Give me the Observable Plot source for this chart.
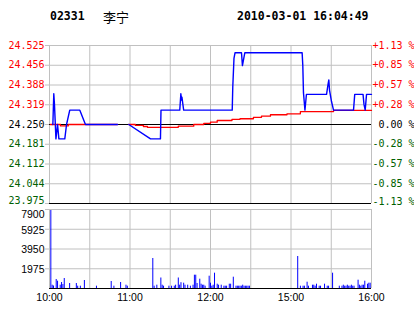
<!DOCTYPE html>
<html><head><meta charset="utf-8">
<script src="https://cdn.jsdelivr.net/npm/d3@7"></script>
<script src="https://cdn.jsdelivr.net/npm/@observablehq/plot@0.6"></script>
<style>
html,body{margin:0;padding:0;background:#fff;}
#wrap{position:relative;width:414px;height:314px;overflow:hidden;background:#fff;}
.h{position:absolute;top:9px;line-height:14px;color:#000;white-space:pre;}
.mono{font:bold 11.5px "DejaVu Sans Mono",monospace;}
.cjk{font:13px "Noto Sans CJK SC",sans-serif;top:7px;}
#main{position:absolute;left:0;top:30px;}
#vol{position:absolute;left:0;top:208px;}
</style></head>
<body>
<div id="wrap">
  <span class="h mono" style="left:50px">02331</span>
  <span class="h cjk" style="left:103px">李宁</span>
  <span class="h mono" style="left:237px">2010-03-01 16:04:49</span>
  <div id="main"></div>
  <div id="vol"></div>
</div>
<script>
// ---------- data ----------
const prevClose = 24.25;
const priceTicks = [24.525, 24.45625, 24.3875, 24.31875, 24.25, 24.18125, 24.1125, 24.04375, 23.975];
const priceLabels = ["24.525","24.456","24.388","24.319","24.250","24.181","24.112","24.044","23.975"];
const pctLabels = ["+1.13 %","+0.85 %","+0.57 %","+0.28 %"," 0.00 %","-0.28 %","-0.57 %","-0.85 %","-1.13 %"];
const volTicks = [1975, 3950, 5925, 7900];
const volLabels = ["1975","3950","5925","7900"];
const gridTimes = ["10:00","10:30","11:00","11:30","12:00","12:30","15:00","15:30","16:00"];
const timeLabels = ["10:00","11:00","12:00","15:00","16:00"];

const priceTime = ["10:02:30","10:03:12","10:03:42","10:04:48","10:06:00","10:07:00","10:11:24","10:12:42","10:15:06","10:22:36",
  "10:26:48","10:50:42","10:55:00","10:59:06","11:15:18","11:22:42","11:23:06","11:37:06","11:37:54","11:38:24",
  "11:38:42","11:40:00","12:16:12","12:16:36","12:17:30","12:18:18","12:23:06","12:23:48","12:24:48","12:25:36",
  "15:08:18","15:08:48","15:09:18","15:10:24","15:11:00","15:11:30","15:26:30","15:27:36","15:28:12","15:28:42",
  "15:30:12","15:31:42","15:46:36","15:47:30","15:53:42","15:54:24","15:55:18","15:56:18","16:00:00"];
const priceValue = [24.25,24.357,24.32,24.20,24.25,24.20,24.20,24.25,24.30,24.30,
  24.25,24.25,null,24.25,24.20,24.20,24.30,24.30,24.357,24.335,
  24.345,24.30,24.30,24.38,24.48,24.50,24.50,24.455,24.48,24.50,
  24.50,24.455,24.36,24.30,24.33,24.355,24.355,24.39,24.405,24.37,
  24.33,24.30,24.30,24.355,24.355,24.32,24.30,24.355,24.355];

const avgTime = ["10:00:42","10:08:12","10:14:00","10:50:42","10:55:00","10:59:06","11:04:00","11:10:00","11:13:00","11:36:00",
  "11:47:30","11:55:00","12:00:00","12:05:00","12:16:00","12:22:00","14:32:00","14:38:00","14:44:42","14:57:00",
  "15:07:00","15:31:42","16:00:00"];
const avgValue = [24.25,24.245,24.25,24.25,null,24.25,24.247,24.243,24.24,24.244,
  24.25,24.254,24.258,24.264,24.268,24.27,24.275,24.279,24.284,24.287,
  24.295,24.299,24.299];

const volTime = ["10:01","10:02","10:03","10:05","10:06","10:08","10:09","10:10","10:11","10:15",
  "10:20","10:21","10:23","10:26","10:35","10:46","10:48","10:53","10:57","10:58",
  "11:17","11:18","11:20","11:23","11:24","11:25","11:29","11:31","11:33","11:34",
  "11:36","11:37","11:38","11:40","11:41","11:43","11:45","11:47","11:48","11:49",
  "11:50","11:52","11:53","11:54","11:55","11:56","11:59","12:00","12:01","12:02",
  "12:03","12:05","12:06","12:08","12:10","12:11","12:12","12:14","12:15","12:17",
  "12:19","12:20","12:21","12:22","12:23","12:24","12:25","12:26","12:27","12:28",
  "12:29","15:05","15:07","15:09","15:10","15:12","15:13","15:16","15:17","15:18",
  "15:19","15:21","15:22","15:25","15:27","15:28","15:31","15:36","15:38","15:39",
  "15:40","15:41","15:42","15:43","15:44","15:45","15:46","15:47","15:50","15:51",
  "15:52","15:53","15:54","15:55","15:57","15:58","15:59"];
const volValue = [7800,330,250,900,730,330,600,400,1000,500,
  500,230,230,800,230,700,230,600,330,230,
  3000,230,330,1050,330,230,230,230,230,330,
  1050,330,580,530,330,330,230,330,1330,1330,
  500,930,430,330,330,230,1230,530,230,330,
  1530,430,330,330,230,230,230,430,430,1130,
  230,230,230,230,230,330,230,230,230,230,
  230,3200,230,230,230,630,230,330,330,230,
  430,230,230,430,230,230,1530,230,230,330,
  230,230,330,230,230,330,230,230,830,330,
  230,330,330,730,430,530,530];

// ---------- helpers ----------
// trading-minute index: morning 10:00-12:30 -> 0..150, afternoon 14:30-16:00 -> 150..240
function tIndex(s) {
  const [h, m, sec = 0] = s.split(":").map(Number);
  const t = h * 60 + m + sec / 60;
  return t <= 12 * 60 + 30 ? t - 600 : 150 + (t - (14 * 60 + 30));
}
const priceRows = priceTime.map((t, i) => ({t: tIndex(t), v: priceValue[i] ?? NaN}));
const avgRows = avgTime.map((t, i) => ({t: tIndex(t), v: avgValue[i] ?? NaN}));
const volRows = volTime.map((t, i) => ({t: tIndex(t), v: volValue[i]}));
const gridIdx = gridTimes.map(tIndex);

const RED = "#ff0000", GREEN = "#006000", GRID = "#c0c0c0";
const tickColor = d => d > prevClose + 1e-9 ? RED : d < prevClose - 1e-9 ? GREEN : "#000";
const monoFont = "DejaVu Sans Mono";
const sansFont = "Liberation Sans";
const upperIdx = priceTicks.map((d, i) => i).slice(0, -1);
const lastIdx = [priceTicks.length - 1];

const main = Plot.plot({
  width: 414, height: 178,
  marginTop: 15, marginBottom: 5, marginLeft: 49, marginRight: 43,
  x: {domain: [0, 240], axis: null},
  y: {domain: [23.975, 24.525], axis: null},
  color: {type: "identity"},
  style: {background: "transparent", overflow: "visible"},
  marks: [
    Plot.ruleY(priceTicks, {y: d => d, x1: -3, x2: 240, stroke: GRID}),
    Plot.ruleX(gridIdx, {x: d => d, stroke: GRID}),
    Plot.ruleY([prevClose, 23.975], {y: d => d, x1: 0, x2: 240, stroke: "#000"}),
    Plot.line(avgRows, {x: "t", y: "v", stroke: RED, strokeWidth: 1.3, curve: "step-after"}),
    Plot.line(priceRows, {x: "t", y: "v", stroke: "#0000ff", strokeWidth: 1.4}),
    Plot.text(upperIdx, {y: i => priceTicks[i], text: i => priceLabels[i], frameAnchor: "left", dx: -5,
      textAnchor: "end", fill: i => tickColor(priceTicks[i]), fontFamily: monoFont, fontSize: 10}),
    Plot.text(upperIdx, {y: i => priceTicks[i], text: i => pctLabels[i], frameAnchor: "right", dx: 1,
      textAnchor: "start", fill: i => tickColor(priceTicks[i]), fontFamily: monoFont, fontSize: 10}),
    Plot.text(lastIdx, {y: i => priceTicks[i], text: i => priceLabels[i], frameAnchor: "left", dx: -5, dy: -3,
      textAnchor: "end", fill: i => tickColor(priceTicks[i]), fontFamily: monoFont, fontSize: 10}),
    Plot.text(lastIdx, {y: i => priceTicks[i], text: i => pctLabels[i], frameAnchor: "right", dx: 1, dy: -2,
      textAnchor: "start", fill: i => tickColor(priceTicks[i]), fontFamily: monoFont, fontSize: 10})
  ]
});
document.getElementById("main").appendChild(main);

const vol = Plot.plot({
  width: 414, height: 106,
  marginTop: 1, marginBottom: 26, marginLeft: 49, marginRight: 43,
  x: {domain: [0, 240], axis: null},
  y: {domain: [0, 7900], axis: null},
  style: {background: "transparent", overflow: "visible"},
  marks: [
    Plot.ruleY(volTicks, {y: d => d, x1: -3, x2: 240, stroke: GRID}),
    Plot.ruleX(gridIdx, {x: d => d, stroke: GRID}),
    Plot.ruleY([0], {x1: 0, x2: 240, stroke: "#000"}),
    Plot.ruleX(volRows, {x: "t", y1: 0, y2: "v", stroke: "#0000ff"}),
    Plot.text(volTicks.slice(0, -1), {y: d => d, text: (d, i) => volLabels[i], frameAnchor: "left", dx: -5, dy: 1,
      textAnchor: "end", fill: "#000", fontFamily: sansFont, fontSize: 10.5}),
    Plot.text(volTicks.slice(-1), {y: d => d, text: volLabels.slice(-1), frameAnchor: "left", dx: -5, dy: 5,
      textAnchor: "end", fill: "#000", fontFamily: sansFont, fontSize: 10.5}),
    Plot.text(timeLabels, {x: d => tIndex(d), text: d => d, frameAnchor: "bottom", dy: 12,
      fill: "#000", fontFamily: sansFont, fontSize: 10.5})
  ]
});
document.getElementById("vol").appendChild(vol);
</script>
</body></html>
